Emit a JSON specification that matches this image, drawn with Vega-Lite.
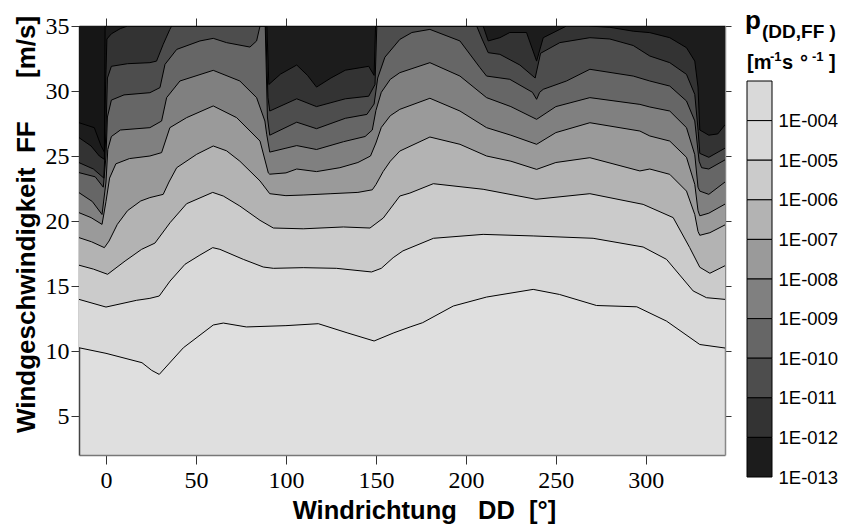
{
"$schema": "https://vega.github.io/schema/vega-lite/v6.json",
"padding": {"left": 13, "top": 8, "right": 0, "bottom": 0},
"background": "white",
"config": {"font": "Liberation Sans", "view": {"stroke": null}},
"datasets": {
"contours": [
{"lv":4,"dd":-15,"ff":10.25},{"lv":4,"dd":0,"ff":9.82},{"lv":4,"dd":20,"ff":9.1},{"lv":4,"dd":25.4,"ff":8.51},{"lv":4,"dd":29.6,"ff":8.2},{"lv":4,"dd":43,"ff":10.25},{"lv":4,"dd":59.6,"ff":12.0},{"lv":4,"dd":65.2,"ff":12.15},{"lv":4,"dd":78,"ff":11.85},{"lv":4,"dd":100,"ff":11.95},{"lv":4,"dd":118,"ff":12.1},{"lv":4,"dd":134,"ff":11.4},{"lv":4,"dd":149,"ff":10.77},{"lv":4,"dd":160,"ff":11.4},{"lv":4,"dd":169,"ff":11.85},{"lv":4,"dd":176,"ff":12.18},{"lv":4,"dd":193,"ff":13.46},{"lv":4,"dd":211.5,"ff":14.15},{"lv":4,"dd":237.4,"ff":14.74},{"lv":4,"dd":252,"ff":14.35},{"lv":4,"dd":272.6,"ff":13.5},{"lv":4,"dd":295,"ff":13.4},{"lv":4,"dd":311.5,"ff":12.3},{"lv":4,"dd":330,"ff":10.5},{"lv":4,"dd":344,"ff":10.23},
{"lv":5,"dd":-15,"ff":13.97},{"lv":5,"dd":0,"ff":13.38},{"lv":5,"dd":17,"ff":13.9},{"lv":5,"dd":24.4,"ff":14.05},{"lv":5,"dd":29.6,"ff":14.23},{"lv":5,"dd":35.6,"ff":15.38},{"lv":5,"dd":43.9,"ff":16.67},{"lv":5,"dd":52.2,"ff":17.38},{"lv":5,"dd":59.3,"ff":17.95},{"lv":5,"dd":63.3,"ff":17.82},{"lv":5,"dd":76.3,"ff":17.05},{"lv":5,"dd":87.4,"ff":16.46},{"lv":5,"dd":93,"ff":16.36},{"lv":5,"dd":109.6,"ff":16.41},{"lv":5,"dd":128,"ff":16.36},{"lv":5,"dd":147.6,"ff":16.08},{"lv":5,"dd":153,"ff":16.36},{"lv":5,"dd":159.6,"ff":17.18},{"lv":5,"dd":165,"ff":17.7},{"lv":5,"dd":182,"ff":18.67},{"lv":5,"dd":209.6,"ff":18.97},{"lv":5,"dd":237.4,"ff":18.85},{"lv":5,"dd":270.7,"ff":18.67},{"lv":5,"dd":298.5,"ff":18.0},{"lv":5,"dd":311.5,"ff":17.05},{"lv":5,"dd":326.3,"ff":14.62},{"lv":5,"dd":333.7,"ff":14.1},{"lv":5,"dd":344,"ff":13.97},
{"lv":6,"dd":-15,"ff":16.6},{"lv":6,"dd":-7,"ff":16.3},{"lv":6,"dd":0.9,"ff":15.9},{"lv":6,"dd":10.6,"ff":16.92},{"lv":6,"dd":19.8,"ff":17.82},{"lv":6,"dd":27.2,"ff":18.3},{"lv":6,"dd":35.6,"ff":19.87},{"lv":6,"dd":44.8,"ff":21.33},{"lv":6,"dd":59.3,"ff":22.2},{"lv":6,"dd":65.2,"ff":21.92},{"lv":6,"dd":74.4,"ff":21.15},{"lv":6,"dd":85.6,"ff":20.05},{"lv":6,"dd":93,"ff":19.46},{"lv":6,"dd":109.6,"ff":19.4},{"lv":6,"dd":131.9,"ff":19.54},{"lv":6,"dd":146.7,"ff":19.46},{"lv":6,"dd":154.1,"ff":20.23},{"lv":6,"dd":163.3,"ff":21.92},{"lv":6,"dd":168.9,"ff":22.15},{"lv":6,"dd":181.9,"ff":22.87},{"lv":6,"dd":209.6,"ff":22.44},{"lv":6,"dd":239,"ff":21.67},{"lv":6,"dd":268.9,"ff":22.1},{"lv":6,"dd":298.5,"ff":21.28},{"lv":6,"dd":315.2,"ff":20.26},{"lv":6,"dd":324.4,"ff":17.95},{"lv":6,"dd":330,"ff":16.44},{"lv":6,"dd":335.6,"ff":15.98},{"lv":6,"dd":344,"ff":16.56},
{"lv":7,"dd":-15,"ff":18.72},{"lv":7,"dd":-8,"ff":18.4},{"lv":7,"dd":-0.9,"ff":17.95},{"lv":7,"dd":1.7,"ff":18.46},{"lv":7,"dd":6.3,"ff":19.74},{"lv":7,"dd":12,"ff":20.8},{"lv":7,"dd":19.3,"ff":21.54},{"lv":7,"dd":24.4,"ff":21.8},{"lv":7,"dd":31.8,"ff":22.05},{"lv":7,"dd":35,"ff":23.0},{"lv":7,"dd":39.3,"ff":24.1},{"lv":7,"dd":50.4,"ff":25.13},{"lv":7,"dd":59.6,"ff":25.77},{"lv":7,"dd":67,"ff":25.4},{"lv":7,"dd":74.4,"ff":24.6},{"lv":7,"dd":85.6,"ff":23.08},{"lv":7,"dd":91,"ff":22.1},{"lv":7,"dd":100,"ff":21.95},{"lv":7,"dd":110,"ff":22.0},{"lv":7,"dd":125,"ff":22.1},{"lv":7,"dd":140,"ff":22.2},{"lv":7,"dd":148,"ff":22.4},{"lv":7,"dd":150,"ff":22.8},{"lv":7,"dd":154,"ff":23.8},{"lv":7,"dd":158,"ff":24.6},{"lv":7,"dd":163.3,"ff":25.38},{"lv":7,"dd":180,"ff":26.46},{"lv":7,"dd":196.7,"ff":25.9},{"lv":7,"dd":211.5,"ff":25.0},{"lv":7,"dd":225,"ff":24.6},{"lv":7,"dd":239.3,"ff":23.97},{"lv":7,"dd":250,"ff":24.5},{"lv":7,"dd":268.9,"ff":24.87},{"lv":7,"dd":296.7,"ff":23.85},{"lv":7,"dd":302.2,"ff":24.0},{"lv":7,"dd":313.3,"ff":23.59},{"lv":7,"dd":322.6,"ff":22.3},{"lv":7,"dd":327.2,"ff":20.5},{"lv":7,"dd":329,"ff":19.2},{"lv":7,"dd":330,"ff":18.9},{"lv":7,"dd":335.6,"ff":19.1},{"lv":7,"dd":344,"ff":19.7},
{"lv":8,"dd":-15,"ff":20.64},{"lv":8,"dd":-8.3,"ff":20.26},{"lv":8,"dd":-2.2,"ff":19.74},{"lv":8,"dd":0,"ff":21.5},{"lv":8,"dd":2,"ff":23.3},{"lv":8,"dd":5.5,"ff":24.4},{"lv":8,"dd":13,"ff":24.8},{"lv":8,"dd":24.4,"ff":25.0},{"lv":8,"dd":30.9,"ff":25.26},{"lv":8,"dd":35.5,"ff":27.18},{"lv":8,"dd":44.8,"ff":27.95},{"lv":8,"dd":59.6,"ff":28.85},{"lv":8,"dd":72.6,"ff":27.95},{"lv":8,"dd":85.6,"ff":26.15},{"lv":8,"dd":90.2,"ff":23.7},{"lv":8,"dd":91,"ff":23.6},{"lv":8,"dd":100,"ff":23.7},{"lv":8,"dd":106,"ff":24.0},{"lv":8,"dd":117,"ff":23.8},{"lv":8,"dd":130,"ff":24.1},{"lv":8,"dd":140,"ff":24.5},{"lv":8,"dd":147,"ff":25.0},{"lv":8,"dd":150,"ff":26.0},{"lv":8,"dd":153,"ff":27.2},{"lv":8,"dd":158,"ff":28.1},{"lv":8,"dd":163.3,"ff":28.59},{"lv":8,"dd":180,"ff":29.44},{"lv":8,"dd":196.7,"ff":28.46},{"lv":8,"dd":211.5,"ff":27.18},{"lv":8,"dd":225,"ff":26.6},{"lv":8,"dd":239.3,"ff":25.9},{"lv":8,"dd":250,"ff":26.8},{"lv":8,"dd":268.9,"ff":27.56},{"lv":8,"dd":296.7,"ff":26.92},{"lv":8,"dd":302.2,"ff":26.54},{"lv":8,"dd":313.3,"ff":26.15},{"lv":8,"dd":322.6,"ff":24.9},{"lv":8,"dd":327.2,"ff":22.82},{"lv":8,"dd":329,"ff":20.8},{"lv":8,"dd":330,"ff":20.4},{"lv":8,"dd":335,"ff":20.6},{"lv":8,"dd":344,"ff":21.3},
{"lv":9,"dd":-15,"ff":22.18},{"lv":9,"dd":-7.6,"ff":21.5},{"lv":9,"dd":-2.2,"ff":20.5},{"lv":9,"dd":0,"ff":23.0},{"lv":9,"dd":1,"ff":25.5},{"lv":9,"dd":3,"ff":26.5},{"lv":9,"dd":8,"ff":27.0},{"lv":9,"dd":24.4,"ff":27.18},{"lv":9,"dd":30.9,"ff":27.69},{"lv":9,"dd":33.7,"ff":29.49},{"lv":9,"dd":41.1,"ff":30.77},{"lv":9,"dd":59.6,"ff":31.59},{"lv":9,"dd":74.4,"ff":30.77},{"lv":9,"dd":83.7,"ff":29.49},{"lv":9,"dd":88.3,"ff":27.69},{"lv":9,"dd":89.3,"ff":26.67},{"lv":9,"dd":91,"ff":25.3},{"lv":9,"dd":100,"ff":25.6},{"lv":9,"dd":106,"ff":25.8},{"lv":9,"dd":117,"ff":25.5},{"lv":9,"dd":132,"ff":26.1},{"lv":9,"dd":144,"ff":26.5},{"lv":9,"dd":148,"ff":27.0},{"lv":9,"dd":150,"ff":28.5},{"lv":9,"dd":153,"ff":29.9},{"lv":9,"dd":158,"ff":30.9},{"lv":9,"dd":163.3,"ff":31.41},{"lv":9,"dd":180,"ff":32.18},{"lv":9,"dd":196.7,"ff":31.15},{"lv":9,"dd":211.5,"ff":29.49},{"lv":9,"dd":225,"ff":28.8},{"lv":9,"dd":239.3,"ff":27.82},{"lv":9,"dd":250,"ff":28.8},{"lv":9,"dd":268.9,"ff":29.49},{"lv":9,"dd":296.7,"ff":28.97},{"lv":9,"dd":302.2,"ff":28.77},{"lv":9,"dd":313.3,"ff":28.46},{"lv":9,"dd":322.6,"ff":27.18},{"lv":9,"dd":327.2,"ff":25.1},{"lv":9,"dd":329,"ff":22.6},{"lv":9,"dd":330,"ff":22.3},{"lv":9,"dd":335,"ff":22.05},{"lv":9,"dd":344,"ff":23.0},
{"lv":10,"dd":-15,"ff":23.72},{"lv":10,"dd":-6,"ff":23.4},{"lv":10,"dd":-1.5,"ff":22.6},{"lv":10,"dd":0,"ff":25.0},{"lv":10,"dd":0.8,"ff":28.0},{"lv":10,"dd":3,"ff":29.3},{"lv":10,"dd":10,"ff":29.7},{"lv":10,"dd":24.4,"ff":29.87},{"lv":10,"dd":30,"ff":30.26},{"lv":10,"dd":32.8,"ff":32.05},{"lv":10,"dd":39.3,"ff":33.2},{"lv":10,"dd":52.2,"ff":33.85},{"lv":10,"dd":59.6,"ff":34.05},{"lv":10,"dd":67,"ff":33.72},{"lv":10,"dd":80,"ff":33.38},{"lv":10,"dd":83.7,"ff":33.85},{"lv":10,"dd":85.6,"ff":35},{"lv":10,"dd":88.5,"ff":35},{"lv":10,"dd":89.7,"ff":28.0},{"lv":10,"dd":91,"ff":26.6},{"lv":10,"dd":106,"ff":27.6},{"lv":10,"dd":117,"ff":27.1},{"lv":10,"dd":133,"ff":27.9},{"lv":10,"dd":145,"ff":28.2},{"lv":10,"dd":149,"ff":29.0},{"lv":10,"dd":151,"ff":31.0},{"lv":10,"dd":155,"ff":32.6},{"lv":10,"dd":163.3,"ff":33.97},{"lv":10,"dd":170,"ff":34.5},{"lv":10,"dd":180,"ff":34.74},{"lv":10,"dd":196.7,"ff":33.85},{"lv":10,"dd":207.8,"ff":31.8},{"lv":10,"dd":211.5,"ff":31.15},{"lv":10,"dd":224.4,"ff":30.9},{"lv":10,"dd":237,"ff":29.9},{"lv":10,"dd":239.3,"ff":29.36},{"lv":10,"dd":241,"ff":29.9},{"lv":10,"dd":243,"ff":30.13},{"lv":10,"dd":255.9,"ff":30.77},{"lv":10,"dd":268.9,"ff":31.67},{"lv":10,"dd":293,"ff":31.15},{"lv":10,"dd":302.2,"ff":30.77},{"lv":10,"dd":313.3,"ff":30.38},{"lv":10,"dd":322.6,"ff":29.23},{"lv":10,"dd":327.2,"ff":27.7},{"lv":10,"dd":329.6,"ff":24.6},{"lv":10,"dd":331,"ff":24.1},{"lv":10,"dd":335,"ff":24.0},{"lv":10,"dd":344,"ff":24.7},
{"lv":11,"dd":-15,"ff":24.49},{"lv":11,"dd":-7,"ff":24.0},{"lv":11,"dd":-1.2,"ff":23.3},{"lv":11,"dd":0,"ff":27.0},{"lv":11,"dd":0.8,"ff":31.0},{"lv":11,"dd":3,"ff":31.9},{"lv":11,"dd":12,"ff":32.1},{"lv":11,"dd":24.4,"ff":32.18},{"lv":11,"dd":28.1,"ff":32.3},{"lv":11,"dd":31.8,"ff":33.59},{"lv":11,"dd":35.5,"ff":34.74},{"lv":11,"dd":36.5,"ff":35},{"lv":11,"dd":88.8,"ff":35},{"lv":11,"dd":90,"ff":29.5},{"lv":11,"dd":91,"ff":28.46},{"lv":11,"dd":106,"ff":29.4},{"lv":11,"dd":117,"ff":28.8},{"lv":11,"dd":133,"ff":29.4},{"lv":11,"dd":146,"ff":29.6},{"lv":11,"dd":149.5,"ff":30.5},{"lv":11,"dd":150.5,"ff":35},{"lv":11,"dd":206,"ff":35},{"lv":11,"dd":209,"ff":34.0},{"lv":11,"dd":212.4,"ff":32.95},{"lv":11,"dd":218.9,"ff":32.82},{"lv":11,"dd":230,"ff":32.0},{"lv":11,"dd":238.5,"ff":31.0},{"lv":11,"dd":241.5,"ff":32.9},{"lv":11,"dd":252.2,"ff":33.72},{"lv":11,"dd":268.9,"ff":34.1},{"lv":11,"dd":280,"ff":34.0},{"lv":11,"dd":293,"ff":33.5},{"lv":11,"dd":302.2,"ff":32.69},{"lv":11,"dd":313.3,"ff":32.18},{"lv":11,"dd":322.6,"ff":31.28},{"lv":11,"dd":327.2,"ff":29.74},{"lv":11,"dd":329.1,"ff":26.9},{"lv":11,"dd":330,"ff":25.2},{"lv":11,"dd":335,"ff":24.9},{"lv":11,"dd":344,"ff":25.6},
{"lv":12,"dd":-15,"ff":26.41},{"lv":12,"dd":-8.3,"ff":25.77},{"lv":12,"dd":-3.7,"ff":25.0},{"lv":12,"dd":-0.9,"ff":24.74},{"lv":12,"dd":-0.3,"ff":30.0},{"lv":12,"dd":0.5,"ff":34.0},{"lv":12,"dd":3,"ff":34.4},{"lv":12,"dd":8,"ff":34.8},{"lv":12,"dd":12,"ff":35},{"lv":12,"dd":89.4,"ff":35},{"lv":12,"dd":90.5,"ff":30.5},{"lv":12,"dd":97,"ff":31.3},{"lv":12,"dd":106,"ff":32.0},{"lv":12,"dd":112,"ff":31.2},{"lv":12,"dd":117,"ff":30.3},{"lv":12,"dd":125,"ff":31.0},{"lv":12,"dd":133,"ff":31.6},{"lv":12,"dd":146,"ff":31.9},{"lv":12,"dd":149,"ff":31.2},{"lv":12,"dd":149.8,"ff":35},{"lv":12,"dd":209.6,"ff":35},{"lv":12,"dd":212.4,"ff":33.85},{"lv":12,"dd":218.9,"ff":34.1},{"lv":12,"dd":224.4,"ff":34.5},{"lv":12,"dd":233.7,"ff":34.5},{"lv":12,"dd":239.3,"ff":32.3},{"lv":12,"dd":243,"ff":34.1},{"lv":12,"dd":252.2,"ff":34.74},{"lv":12,"dd":255.9,"ff":35},{"lv":12,"dd":268,"ff":35},{"lv":12,"dd":280,"ff":34.9},{"lv":12,"dd":293,"ff":34.6},{"lv":12,"dd":302.2,"ff":34.49},{"lv":12,"dd":313.3,"ff":34.1},{"lv":12,"dd":322.6,"ff":33.33},{"lv":12,"dd":327.2,"ff":32.3},{"lv":12,"dd":329,"ff":30.3},{"lv":12,"dd":330,"ff":27.0},{"lv":12,"dd":335,"ff":26.6},{"lv":12,"dd":340,"ff":26.7},{"lv":12,"dd":344,"ff":27.4},
{"lv":13,"dd":-15,"ff":27.56},{"lv":13,"dd":-6.5,"ff":27.18},{"lv":13,"dd":-2.8,"ff":25.8},{"lv":13,"dd":-0.9,"ff":25.3},{"lv":13,"dd":-0.5,"ff":35},{"lv":13,"dd":344,"ff":35}
],
"legend": [
{"upper":3,"lower":4},{"upper":4,"lower":5},{"upper":5,"lower":6},{"upper":6,"lower":7},{"upper":7,"lower":8},{"upper":8,"lower":9},{"upper":9,"lower":10},{"upper":10,"lower":11},{"upper":11,"lower":12},{"upper":12,"lower":13}
]
},
"spacing": 13,
"hconcat": [
{
"width": 646, "height": 429,
"view": {"fill": "#dfdfdf", "stroke": null},
"data": {"name": "contours"},
"layer": [
{"mark": {"type": "area", "clip": true, "interpolate": "linear"},
 "encoding": {
  "x": {"field": "dd", "type": "quantitative", "scale": {"domain": [-15, 344], "nice": false, "zero": false},
        "axis": {"orient": "bottom", "values": [0,50,100,150,200,250,300], "grid": false, "title": "Windrichtung\u00a0\u00a0\u00a0DD\u00a0\u00a0[°]", "titleFontSize": 25.5, "titleFontWeight": "bold", "titleColor": "black", "titlePadding": 6, "titleX": 345, "labelFont": "Liberation Sans Narrow", "labelFontSize": 24, "labelColor": "black", "labelPadding": 4, "tickSize": 9, "tickColor": "#333", "domainColor": "#777", "domainWidth": 1.5}},
  "y": {"field": "ff", "type": "quantitative", "stack": null, "scale": {"domain": [2, 35], "nice": false, "zero": false},
        "axis": {"orient": "left", "values": [5,10,15,20,25,30,35], "grid": false, "title": "Windgeschwindigkeit\u00a0\u00a0FF\u00a0\u00a0\u00a0\u00a0\u00a0\u00a0[m/s]", "titleFontSize": 26, "titleFontWeight": "bold", "titleColor": "black", "titlePadding": 6, "titleY": 198, "labelFont": "Liberation Sans Narrow", "labelFontSize": 24, "labelColor": "black", "labelPadding": 2, "tickSize": 8, "tickColor": "#333", "domainColor": "#444", "domainWidth": 1.5}},
  "y2": {"datum": 35},
  "color": {"field": "lv", "type": "ordinal", "scale": {"domain": [4,5,6,7,8,9,10,11,12,13], "range": ["#d9d9d9","#cbcbcb","#b3b3b3","#9a9a9a","#808080","#666666","#4d4d4d","#333333","#1c1c1c","#161616"]}, "legend": null}
 }},
{"mark": {"type": "line", "clip": true, "color": "black", "strokeWidth": 1, "interpolate": "linear"},
 "encoding": {
  "x": {"field": "dd", "type": "quantitative", "axis": {"orient": "top", "values": [0,50,100,150,200,250,300], "labels": false, "title": null, "grid": false, "tickSize": 8, "tickColor": "#333", "domainColor": "#111", "domainWidth": 1.5}},
  "y": {"field": "ff", "type": "quantitative", "axis": {"orient": "right", "values": [5,10,15,20,25,30,35], "labels": false, "title": null, "grid": false, "tickSize": 6, "tickColor": "#333", "domainColor": "#888", "domainWidth": 1.5}},
  "detail": {"field": "lv", "type": "ordinal"}
 }}
],
"resolve": {"axis": {"x": "independent", "y": "independent"}}
},
{
"width": 25, "height": 451,
"view": {"stroke": null},
"layer": [
{"data": {"name": "legend"},
 "mark": {"type": "rect", "stroke": "black", "strokeWidth": 1},
 "encoding": {
  "x": {"datum": 0, "type": "quantitative", "scale": {"domain": [0, 1], "nice": false, "zero": false}, "axis": null},
  "x2": {"datum": 1},
  "y": {"field": "upper", "type": "quantitative", "scale": {"domain": [1.611, 13], "nice": false, "zero": false, "reverse": true},
        "axis": {"orient": "right", "values": [4,5,6,7,8,9,10,11,12,13], "labelExpr": "'1E-0' + (datum.value < 10 ? '0' : '') + datum.value", "ticks": false, "domain": false, "grid": false, "title": null, "labelPadding": 6, "labelFontSize": 18.5, "labelColor": "black"}},
  "y2": {"field": "lower"},
  "color": {"field": "upper", "type": "ordinal", "scale": {"domain": [3,4,5,6,7,8,9,10,11,12], "range": ["#dfdfdf","#d9d9d9","#cbcbcb","#b3b3b3","#9a9a9a","#808080","#666666","#4d4d4d","#333333","#1c1c1c"]}, "legend": null}
 }},
{"data": {"values": [{}]}, "mark": {"type": "text", "text": "p", "fontSize": 26, "fontWeight": "bold", "align": "left", "baseline": "alphabetic", "color": "black"},
 "encoding": {"x": {"datum": -0.08, "type": "quantitative"}, "y": {"datum": 1.687, "type": "quantitative"}}},
{"data": {"values": [{}]}, "mark": {"type": "text", "text": "(DD,FF\u00a0)", "fontSize": 19, "fontWeight": "bold", "align": "left", "baseline": "alphabetic", "color": "black"},
 "encoding": {"x": {"datum": 0.6, "type": "quantitative"}, "y": {"datum": 1.914, "type": "quantitative"}}},
{"data": {"values": [{}]}, "mark": {"type": "text", "text": "[m", "fontSize": 20, "fontWeight": "bold", "align": "left", "baseline": "alphabetic", "color": "black"},
 "encoding": {"x": {"datum": 0, "type": "quantitative"}, "y": {"datum": 2.697, "type": "quantitative"}}},
{"data": {"values": [{}]}, "mark": {"type": "text", "text": "-1", "fontSize": 13, "fontWeight": "bold", "align": "left", "baseline": "alphabetic", "color": "black"},
 "encoding": {"x": {"datum": 0.92, "type": "quantitative"}, "y": {"datum": 2.495, "type": "quantitative"}}},
{"data": {"values": [{}]}, "mark": {"type": "text", "text": "s", "fontSize": 20, "fontWeight": "bold", "align": "left", "baseline": "alphabetic", "color": "black"},
 "encoding": {"x": {"datum": 1.4, "type": "quantitative"}, "y": {"datum": 2.697, "type": "quantitative"}}},
{"data": {"values": [{}]}, "mark": {"type": "text", "text": "°", "fontSize": 20, "fontWeight": "bold", "align": "left", "baseline": "alphabetic", "color": "black"},
 "encoding": {"x": {"datum": 2.12, "type": "quantitative"}, "y": {"datum": 2.697, "type": "quantitative"}}},
{"data": {"values": [{}]}, "mark": {"type": "text", "text": "-1", "fontSize": 13, "fontWeight": "bold", "align": "left", "baseline": "alphabetic", "color": "black"},
 "encoding": {"x": {"datum": 2.6, "type": "quantitative"}, "y": {"datum": 2.495, "type": "quantitative"}}},
{"data": {"values": [{}]}, "mark": {"type": "text", "text": "]", "fontSize": 20, "fontWeight": "bold", "align": "left", "baseline": "alphabetic", "color": "black"},
 "encoding": {"x": {"datum": 3.28, "type": "quantitative"}, "y": {"datum": 2.697, "type": "quantitative"}}}
]
}
]
}
